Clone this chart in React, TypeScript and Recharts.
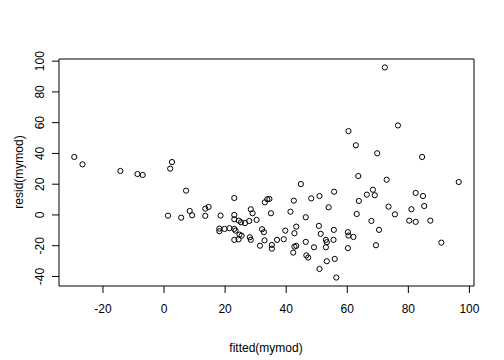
import React from 'react';
import { ReferenceArea, Scatter, ScatterChart, XAxis, YAxis } from 'recharts';

// fitted values and residuals
const FITTED = [
  -29.4, -26.7, -14.3, -8.7, -7.0, 2.0, 2.6, 7.2, 1.3, 5.6,
  8.4, 9.2, 13.5, 14.6, 13.5, 18.5, 23.0, 23.0, 23.0, 18.1,
  18.1, 19.8, 21.4, 23.0, 23.4, 24.5, 25.2, 26.5, 27.9, 30.3,
  28.4, 29.0, 23.0, 24.4, 24.7, 25.4, 28.1, 28.4, 32.1, 32.7,
  33.0, 33.8, 34.5, 35.0, 31.4, 32.9, 35.3, 35.3, 37.0, 39.2,
  39.7, 41.4, 42.5, 44.8, 43.3, 42.7, 42.7, 43.3, 42.3, 46.4,
  46.4, 49.1, 46.6, 47.2, 50.7, 51.3, 53.0, 53.3, 53.0, 55.5,
  55.6, 53.3, 55.9, 50.9, 56.4, 48.2, 50.9, 55.7, 53.9, 63.6,
  72.9, 66.4, 68.4, 69.0, 63.8, 63.1, 73.5, 75.6, 67.9, 70.4,
  69.4, 60.2, 60.4, 62.0, 60.2, 72.3, 60.4, 76.6, 62.8, 69.8,
  84.5, 96.5, 82.4, 84.8, 81.0, 85.2, 80.3, 82.4, 87.2, 90.8,
];
const RESID = [
  37.7, 32.9, 28.6, 26.6, 26.0, 30.1, 34.4, 15.8, -0.5, -1.8,
  2.6, -0.2, 4.1, 5.2, -0.6, -0.4, 11.0, 0.0, -2.8, -8.9,
  -10.6, -9.1, -8.6, -9.1, -10.2, -3.7, -4.8, -5.3, -3.9, -3.2,
  3.7, 1.1, -16.2, -15.9, -12.8, -13.5, -14.5, -16.2, -9.3, -11.2,
  8.2, 10.2, 10.4, 1.1, -20.0, -16.5, -19.5, -21.9, -16.2, -15.8,
  -10.2, 2.1, 9.3, 20.1, -7.6, -11.9, -20.6, -20.1, -24.5, -1.5,
  -17.5, -21.0, -26.3, -27.7, -7.1, -12.3, -16.2, -17.7, -21.0, -16.2,
  -9.7, -30.1, -28.6, -35.1, -40.7, 10.8, 12.3, 15.1, 5.0, 25.3,
  22.9, 13.2, 16.4, 12.8, 9.1, 0.6, 5.4, 0.4, -3.9, -9.7,
  -19.7, -11.2, -13.4, -14.3, -21.6, 95.9, 54.5, 58.2, 45.3, 40.1,
  37.7, 21.4, 14.3, 12.3, 3.7, 5.8, -3.7, -4.5, -3.7, -18.0,
];
const X_TICKS = [-20, 0, 20, 40, 60, 80, 100];
const Y_TICKS = [-40, -20, 0, 20, 40, 60, 80, 100];
const X_DOMAIN = [-34.4, 101.5];
const Y_DOMAIN = [-46.2, 101.4];

const points = FITTED.map((x, i) => ({ x, y: RESID[i] }));

const FONT = 'Liberation Sans, Arial, sans-serif';

function XTick({ x, payload }: any) {
  return (
    <text x={x} y={313} textAnchor="middle" fontSize={12} fontFamily={FONT} fill="#000">
      {payload.value}
    </text>
  );
}

function YTick({ y, payload }: any) {
  return (
    <text x={44} y={y} transform={`rotate(-90 44 ${y})`} textAnchor="middle" fontSize={12} fontFamily={FONT} fill="#000">
      {payload.value}
    </text>
  );
}

function XTitle() {
  return (
    <text x={266} y={352} textAnchor="middle" fontSize={12} fontFamily={FONT} fill="#000">
      fitted(mymod)
    </text>
  );
}

function YTitle() {
  return (
    <text x={23} y={172} transform="rotate(-90 23 172)" textAnchor="middle" fontSize={12} fontFamily={FONT} fill="#000">
      resid(mymod)
    </text>
  );
}

const ring = (p: any) => <circle cx={p.cx} cy={p.cy} r={2.6} fill="none" stroke="#000" strokeWidth={1} />;

export default function App() {
  return (
    <div style={{ position: 'absolute', left: 0, top: 0, background: '#fff' }}>
      <ScatterChart width={504} height={360} margin={{ top: 59, right: 30, bottom: 0, left: 0 }}>
        <XAxis
          type="number"
          dataKey="x"
          domain={X_DOMAIN}
          ticks={X_TICKS}
          allowDataOverflow
          height={74}
          axisLine={false}
          tickSize={7}
          tickLine={{ stroke: '#000' }}
          tick={<XTick />}
          label={<XTitle />}
        />
        <YAxis
          type="number"
          dataKey="y"
          domain={Y_DOMAIN}
          ticks={Y_TICKS}
          allowDataOverflow
          width={59}
          axisLine={false}
          tickSize={7}
          tickLine={{ stroke: '#000' }}
          tick={<YTick />}
          label={<YTitle />}
        />
        <ReferenceArea
          x1={X_DOMAIN[0]}
          x2={X_DOMAIN[1]}
          y1={Y_DOMAIN[0]}
          y2={Y_DOMAIN[1]}
          fill="none"
          fillOpacity={0}
          stroke="#000"
          strokeWidth={1}
          ifOverflow="visible"
        />
        <Scatter data={points} shape={ring} isAnimationActive={false} />
      </ScatterChart>
    </div>
  );
}
